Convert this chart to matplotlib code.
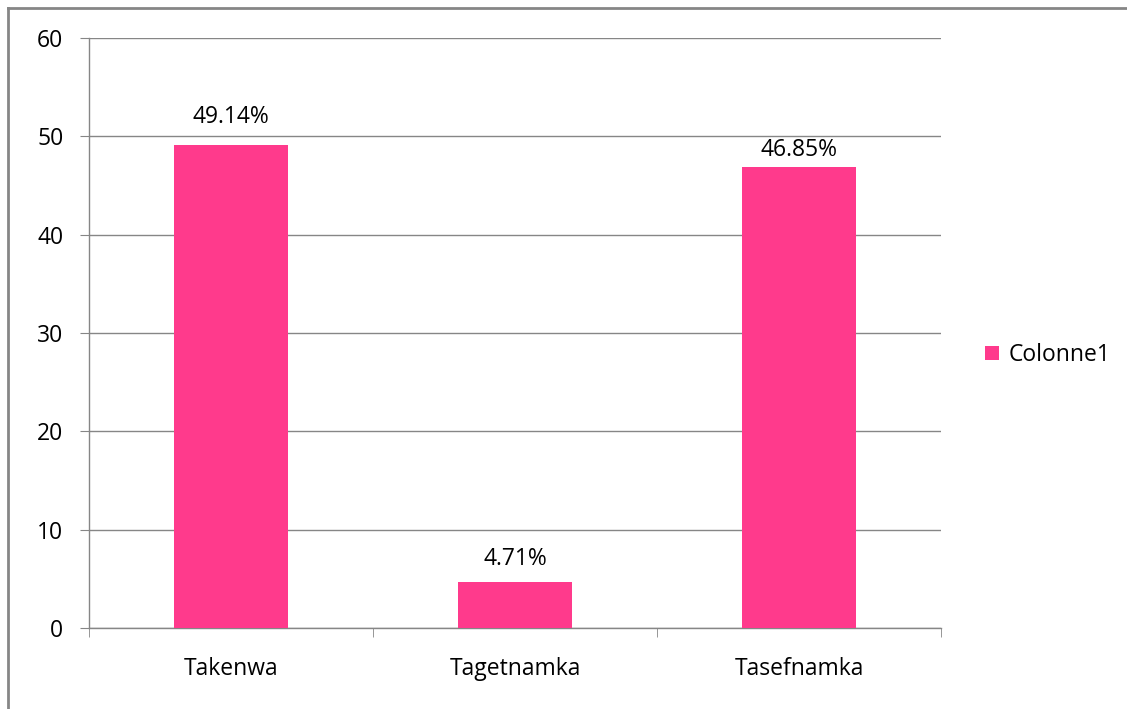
import matplotlib
matplotlib.use("Agg")
import matplotlib.pyplot as plt
from matplotlib.lines import Line2D
from matplotlib.patches import Patch

categories = ["Takenwa", "Tagetnamka", "Tasefnamka"]
values = [49.14, 4.71, 46.85]
labels = ["49.14%", "4.71%", "46.85%"]
series_name = "Colonne1"
yticks = [0, 10, 20, 30, 40, 50, 60]

plt.rcParams['font.family'] = ['Open Sans', 'DejaVu Sans']
color = "#FF3A8C"
grid = "#868686"
fs = 16.5

fig = plt.figure(figsize=(11.27, 7.09), dpi=100)
ax = fig.add_axes([89/1127, 81/709, (941-89)/1127, (628-38)/709])

x = list(range(len(categories)))
ax.bar(x, values, width=0.4, color=color, zorder=3)
ax.set_xlim(-0.5, len(categories) - 0.5)
ax.set_ylim(0, 60)
ax.set_yticks(yticks)
ax.set_yticklabels([str(t) for t in yticks], fontsize=fs)
ax.yaxis.grid(True, color=grid, linewidth=1)
ax.set_axisbelow(True)
ax.set_xticks(x)
ax.set_xticklabels(categories, fontsize=fs)
ax.tick_params(axis='x', length=0, pad=21)
ax.tick_params(axis='y', length=6.5, color=grid, pad=12, direction='out')
# category boundary ticks
ax.set_xticks([i - 0.5 for i in range(len(categories) + 1)], minor=True)
ax.tick_params(axis='x', which='minor', length=6.5, color=grid, direction='out')
for s in ['top', 'right']:
    ax.spines[s].set_visible(False)
for s in ['left', 'bottom']:
    ax.spines[s].set_color(grid)
    ax.spines[s].set_linewidth(1)

offsets = [1.6, 1.1, 0.5]
for xi, v, lab, off in zip(x, values, labels, offsets):
    ax.text(xi, v + off, lab, ha='center', va='bottom', fontsize=fs)

leg = fig.legend(handles=[Patch(facecolor=color, label=series_name)],
                 loc='center left', bbox_to_anchor=(985/1127, 1 - 355/709),
                 frameon=False, fontsize=fs, handlelength=0.61, handleheight=0.61,
                 handletextpad=0.4, borderaxespad=0, borderpad=0)

# outer chart border (left and top visible)
fig.add_artist(Line2D([8/1127, 8/1127], [0, 1 - 8/709], transform=fig.transFigure,
                      color=grid, linewidth=2))
fig.add_artist(Line2D([8/1127, 1], [1 - 8/709, 1 - 8/709], transform=fig.transFigure,
                      color=grid, linewidth=2))

fig.savefig("out.png", dpi=100)
